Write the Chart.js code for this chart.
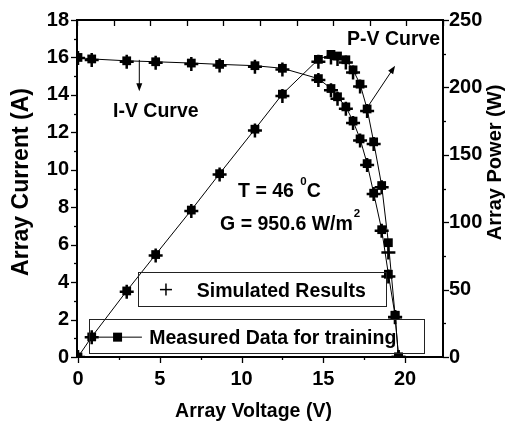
<!DOCTYPE html>
<html>
<head>
<meta charset="utf-8">
<title>PV array I-V and P-V curves</title>
<script src="https://cdn.jsdelivr.net/npm/chart.js@4.4.1/dist/chart.umd.min.js"></script>
<style>
    html, body { margin: 0; padding: 0; background: #fff; }
    #wrap { width: 505px; height: 428px; }
</style>
</head>
<body>
<div id="wrap"><canvas id="pvChart" width="505" height="428"></canvas></div>
<script>
// --- DATA ---
const voltage          = [0, 0.84, 2.98, 4.75, 6.93, 8.66, 10.82, 12.5, 14.7, 15.47, 15.87, 16.38, 16.82, 17.25, 17.68, 18.08, 18.57, 18.98, 19.39, 19.6];
const measuredCurrent  = [16.0, 15.92, 15.82, 15.77, 15.7, 15.63, 15.56, 15.42, 14.87, 14.34, 13.9, 13.36, 12.6, 11.65, 10.33, 8.75, 6.8, 4.42, 2.22, 0];
const simulatedCurrent = [15.97, 15.87, 15.77, 15.71, 15.65, 15.57, 15.5, 15.35, 14.8, 14.25, 13.8, 13.26, 12.5, 11.56, 10.25, 8.7, 6.74, 4.3, 2.14, 0];
const measuredPower    = [0, 14.9, 49, 76, 109, 136, 169, 195, 220.8, 224.5, 223.3, 220.5, 213, 202.4, 184, 159.6, 127.2, 84.8, 31, 0];
const simulatedPower   = [0, 14.6, 48.4, 75.3, 108.4, 135.3, 168, 193.6, 219, 222.2, 221, 218.4, 211, 200.6, 182.4, 158, 126, 77.5, 29.5, 0];

const voltageRange  = [-0.06, 22.32];
const currentRange  = [0, 18];
const powerRange    = [0, 250];
const voltageLabels = [0, 5, 10, 15, 20];
const currentLabels = [0, 2, 4, 6, 8, 10, 12, 14, 16, 18];
const powerLabels   = [0, 50, 100, 150, 200, 250];

const FONT = "'Liberation Sans', Arial, Helvetica, sans-serif";

const pairs = (ys) => voltage.map((v, i) => ({ x: v, y: ys[i] }));

function drawText(ctx, str, x, y, size, align = 'left', baseline = 'alphabetic') {
    ctx.font = `bold ${size}px ${FONT}`;
    ctx.textAlign = align;
    ctx.textBaseline = baseline;
    ctx.fillText(str, x, y);
    return ctx.measureText(str).width;
}

function drawArrow(ctx, x1, y1, x2, y2) {
    const ang = Math.atan2(y2 - y1, x2 - x1);
    ctx.beginPath();
    ctx.moveTo(x1, y1);
    ctx.lineTo(x2 - 6 * Math.cos(ang), y2 - 6 * Math.sin(ang));
    ctx.stroke();
    ctx.beginPath();
    ctx.moveTo(x2, y2);
    ctx.lineTo(x2 - 8 * Math.cos(ang) + 3 * Math.sin(ang), y2 - 8 * Math.sin(ang) - 3 * Math.cos(ang));
    ctx.lineTo(x2 - 8 * Math.cos(ang) - 3 * Math.sin(ang), y2 - 8 * Math.sin(ang) + 3 * Math.cos(ang));
    ctx.closePath();
    ctx.fill();
}

// ticks (major/minor), titles, notes and the boxed legend
const decorations = {
    id: 'decorations',
    afterDraw(chart) {
        const ctx = chart.ctx;
        const a = chart.chartArea;
        const s = chart.scales;
        const px = v => s.x.getPixelForValue(v);
        const pyI = v => s.y.getPixelForValue(v);
        const pyP = v => s.y1.getPixelForValue(v);
        const seg = (x1, y1, x2, y2) => { ctx.beginPath(); ctx.moveTo(x1, y1); ctx.lineTo(x2, y2); ctx.stroke(); };

        ctx.save();
        ctx.strokeStyle = '#000';
        ctx.fillStyle = '#000';
        ctx.lineWidth = 1.3;

        s.x.ticks.forEach(t => {
            const p = Math.round(px(t.value)) + 0.5;
            seg(p, a.bottom, p, a.bottom + (voltageLabels.includes(t.value) ? 6 : 3));
        });
        s.xTop.ticks.forEach(t => {
            const p = Math.round(s.xTop.getPixelForValue(t.value)) + 0.5;
            seg(p, a.top, p, a.top + 6);
        });
        s.y.ticks.forEach(t => {
            const p = Math.round(pyI(t.value)) + 0.5;
            seg(a.left, p, a.left - (currentLabels.includes(t.value) ? 6 : 3), p);
        });
        s.y1.ticks.forEach(t => {
            const p = Math.round(pyP(t.value)) + 0.5;
            seg(a.right, p, a.right + (powerLabels.includes(t.value) ? 6 : 3), p);
        });
        ctx.lineWidth = 1;

        // axis titles
        drawText(ctx, 'Array Voltage (V)', (a.left + a.right) / 2 - 6.5, 417, 19.5, 'center');
        ctx.save();
        ctx.translate(21.5, 182);
        ctx.rotate(-Math.PI / 2);
        drawText(ctx, 'Array Current (A)', 0, 0, 23, 'center', 'middle');
        ctx.restore();
        ctx.save();
        ctx.translate(495, 162.5);
        ctx.rotate(-Math.PI / 2);
        drawText(ctx, 'Array Power (W)', 0, 0, 20, 'center', 'middle');
        ctx.restore();

        // curve labels and arrows
        drawText(ctx, 'I-V Curve', px(2.14), pyI(12.8), 19.5);
        drawText(ctx, 'P-V Curve', px(16.45), pyI(16.67), 19.5);
        drawArrow(ctx, px(3.75), pyI(15.87), px(3.75), pyI(14.2));
        drawArrow(ctx, px(17.74), pyP(186), px(19.39), pyP(216));

        // test conditions
        let x = px(9.79), y = pyI(8.57);
        x += drawText(ctx, 'T = 46 ', x, y, 19.5);
        x += drawText(ctx, '0', x + 1, y - 12, 11.5);
        drawText(ctx, 'C', x + 1, y, 19.5);
        x = px(8.69); y = pyI(6.81);
        x += drawText(ctx, 'G = 950.6 W/m', x, y, 19.5);
        drawText(ctx, '2', x + 1, y - 13, 11.5);

        // legend boxes
        ctx.strokeStyle = '#222';
        ctx.strokeRect(Math.round(px(3.67)) + 0.5, Math.round(pyI(4.55)) + 0.5,
            Math.round(px(18.84) - px(3.67)), Math.round(pyI(2.75) - pyI(4.55)));
        ctx.strokeRect(Math.round(px(0.67)) + 0.5, Math.round(pyI(2.01)) + 0.5,
            Math.round(px(21.16) - px(0.67)), Math.round(pyI(0.21) - pyI(2.01)));
        ctx.strokeStyle = '#000';
        ctx.lineWidth = 1.5;
        seg(px(5.38) - 6, pyI(3.6), px(5.38) + 6, pyI(3.6));
        seg(px(5.38), pyI(3.6) - 6, px(5.38), pyI(3.6) + 6);
        drawText(ctx, 'Simulated Results', px(7.26), pyI(3.23), 19.5);
        ctx.lineWidth = 1;
        seg(px(1.16), pyI(1.06), px(3.91), pyI(1.06));
        ctx.fillRect(px(2.42) - 4.5, pyI(1.06) - 4.5, 9, 9);
        drawText(ctx, 'Measured Data for training', px(4.36), pyI(0.72), 19.5);

        ctx.restore();
    }
};

const tickFont = { family: FONT, size: 20, weight: 'bold' };
const frame = { display: true, color: '#000', width: 2 };
const noGrid = { drawOnChartArea: false, drawTicks: false };

new Chart(document.getElementById('pvChart'), {
    type: 'scatter',
    data: {
        datasets: [
            {
                label: 'Measured I-V',
                data: pairs(measuredCurrent),
                yAxisID: 'y',
                showLine: true,
                borderColor: '#000',
                borderWidth: 1,
                backgroundColor: '#000',
                pointStyle: 'rect',
                pointRadius: 6.2,
                pointBorderWidth: 0
            },
            {
                label: 'Measured P-V',
                data: pairs(measuredPower),
                yAxisID: 'y1',
                showLine: true,
                borderColor: '#000',
                borderWidth: 1,
                backgroundColor: '#000',
                pointStyle: 'rect',
                pointRadius: 6.2,
                pointBorderWidth: 0
            },
            {
                label: 'Simulated I-V',
                data: pairs(simulatedCurrent),
                yAxisID: 'y',
                showLine: false,
                borderColor: '#000',
                pointStyle: 'cross',
                pointRadius: 7,
                pointBorderWidth: 2.5
            },
            {
                label: 'Simulated P-V',
                data: pairs(simulatedPower),
                yAxisID: 'y1',
                showLine: false,
                borderColor: '#000',
                pointStyle: 'cross',
                pointRadius: 7,
                pointBorderWidth: 2.5
            }
        ]
    },
    options: {
        responsive: false,
        animation: false,
        layout: { padding: 0 },
        plugins: { legend: { display: false }, tooltip: { enabled: false } },
        scales: {
            x: {
                type: 'linear',
                position: 'bottom',
                min: voltageRange[0],
                max: voltageRange[1],
                grid: noGrid,
                border: frame,
                ticks: {
                    stepSize: 2.5,
                    includeBounds: false,
                    autoSkip: false,
                    maxRotation: 0,
                    padding: 10,
                    color: '#000',
                    font: tickFont,
                    callback: v => voltageLabels.includes(v) ? String(v) : ''
                },
                afterFit: sc => { sc.height = 71; }
            },
            xTop: {
                type: 'linear',
                position: 'top',
                min: 0,
                max: 10,
                grid: noGrid,
                border: frame,
                ticks: { stepSize: 1, display: false },
                afterFit: sc => { sc.height = 17; }
            },
            y: {
                type: 'linear',
                position: 'left',
                min: currentRange[0],
                max: currentRange[1],
                grid: noGrid,
                border: frame,
                ticks: {
                    stepSize: 1,
                    autoSkip: false,
                    padding: 8,
                    color: '#000',
                    font: tickFont,
                    callback: v => currentLabels.includes(v) ? String(v) : ''
                },
                afterFit: sc => { sc.width = 77; }
            },
            y1: {
                type: 'linear',
                position: 'right',
                min: powerRange[0],
                max: powerRange[1],
                grid: noGrid,
                border: frame,
                ticks: {
                    stepSize: 25,
                    autoSkip: false,
                    padding: 6,
                    color: '#000',
                    font: tickFont,
                    callback: v => powerLabels.includes(v) ? String(v) : ''
                },
                afterFit: sc => { sc.width = 62; }
            }
        }
    },
    plugins: [decorations]
});
</script>
</body>
</html>
